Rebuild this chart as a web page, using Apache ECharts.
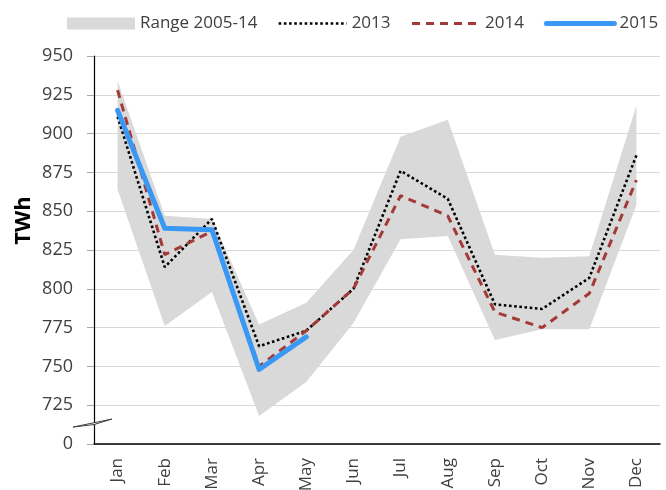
<!DOCTYPE html>
<html>
<head>
<meta charset="utf-8">
<script src="https://cdn.jsdelivr.net/npm/echarts@6/dist/echarts.min.js"></script>
<style>
    html, body { margin: 0; padding: 0; background: #fff; }
    #chart { width: 666px; height: 490px; }
</style>
</head>
<body>
<div id="chart"></div>
<script>
const months = ["Jan", "Feb", "Mar", "Apr", "May", "Jun", "Jul", "Aug", "Sep", "Oct", "Nov", "Dec"]
const rangeLow = [864, 776, 798, 718, 740, 778, 832, 834, 767, 774, 774, 854]
const rangeHigh = [934, 847, 845, 777, 791, 825, 898, 909, 822, 820, 821, 918]
const y2013 = [911, 814, 845, 763, 773, 800, 876, 858, 790, 787, 807, 886]
const y2014 = [928, 822, 837, 750, 773, 800, 860, 847, 785, 775, 797, 870]
const y2015 = [915, 839, 838, 748, 769]
// 0 on the broken axis sits one step below 725
const yTicks = [700, 725, 750, 775, 800, 825, 850, 875, 900, 925, 950]

const font = "'Open Sans', sans-serif"
const textColor = "#404040"

var myChart = echarts.init(document.getElementById("chart"))

myChart.setOption({
    animation: false,
    textStyle: { fontFamily: font },
    legend: {
        left: 62,
        top: 10,
        width: 640,
        itemWidth: 68,
        itemHeight: 12,
        itemGap: 20,
        itemStyle: { opacity: 0 },
        textStyle: { fontSize: 17, color: textColor, fontFamily: font },
        data: [
            { name: "Range 2005-14", icon: "rect", itemStyle: { color: "#d9d9d9", opacity: 1 } },
            { name: "2013", lineStyle: { width: 2.6 } },
            { name: "2014", lineStyle: { width: 3 } },
            { name: "2015", lineStyle: { width: 5, cap: "round" } },
        ],
    },
    grid: {
        left: 94,
        right: 6,
        top: 56,
        bottom: 46,
        containLabel: false,
        outerBoundsMode: "none",
    },
    xAxis: {
        type: "category",
        data: months,
        boundaryGap: true,
        axisLine: { lineStyle: { color: "#000", width: 1.5 } },
        axisTick: { length: 6, lineStyle: { color: "#a6a6a6" } },
        axisLabel: {
            rotate: 90,
            margin: 14,
            fontSize: 17,
            color: textColor,
            fontFamily: font,
        },
    },
    yAxis: {
        type: "value",
        min: yTicks[0],
        max: yTicks[yTicks.length - 1],
        interval: 25,
        axisLine: { show: true, lineStyle: { color: "#000", width: 1.2 } },
        axisTick: { show: true, length: 7, lineStyle: { color: "#a6a6a6" } },
        axisLabel: {
            margin: 21,
            fontSize: 18,
            color: textColor,
            fontFamily: font,
            formatter: (v) => (v === yTicks[0] ? "0" : String(v)),
        },
        splitLine: { lineStyle: { color: "#d9d9d9", width: 1 } },
    },
    series: [
        {
            name: "rangeBase",
            type: "line",
            stack: "range",
            data: rangeLow,
            symbol: "none",
            silent: true,
            lineStyle: { opacity: 0 },
        },
        {
            name: "Range 2005-14",
            type: "line",
            stack: "range",
            data: rangeHigh.map((h, i) => h - rangeLow[i]),
            symbol: "none",
            silent: true,
            lineStyle: { opacity: 0 },
            itemStyle: { color: "#d9d9d9" },
            areaStyle: { color: "#d9d9d9", opacity: 1 },
        },
        {
            name: "2013",
            type: "line",
            data: y2013,
            symbol: "none",
            itemStyle: { color: "#000" },
            lineStyle: { color: "#000", width: 2.6, type: [2.6, 2.6], cap: "butt" },
        },
        {
            name: "2014",
            type: "line",
            data: y2014,
            symbol: "none",
            itemStyle: { color: "#a33a37" },
            lineStyle: { color: "#a33a37", width: 3, type: [8, 6] },
        },
        {
            name: "2015",
            type: "line",
            data: y2015,
            symbol: "none",
            itemStyle: { color: "#3a98f5" },
            lineStyle: { color: "#3a98f5", width: 5, cap: "round", join: "round" },
        },
    ],
})

// axis break marker and the rotated axis title
const axisX = myChart.convertToPixel({ xAxisIndex: 0 }, 0) - 47.17 / 2
const yb = myChart.convertToPixel({ yAxisIndex: 0 }, 713.5)
const yMid = myChart.convertToPixel({ yAxisIndex: 0 }, 844)
myChart.setOption({
    graphic: [
        {
            type: "polygon",
            shape: {
                points: [
                    [axisX - 21, yb + 4],
                    [axisX + 18, yb - 4],
                    [axisX, yb + 1.5],
                ],
            },
            style: { fill: "#fff", stroke: "#404040", lineWidth: 1 },
            z: 100,
        },
        {
            type: "text",
            x: 24,
            y: yMid,
            rotation: Math.PI / 2,
            style: {
                text: "TWh",
                font: "bold 22px " + font,
                fill: "#000",
                align: "center",
                verticalAlign: "middle",
            },
        },
    ],
})
</script>
</body>
</html>
